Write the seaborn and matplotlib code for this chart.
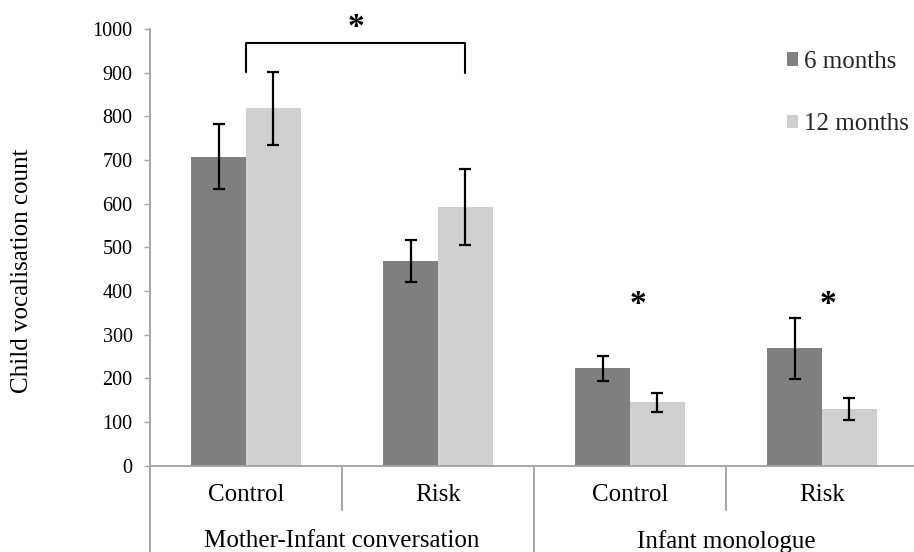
import matplotlib
matplotlib.use("Agg")
import matplotlib.pyplot as plt
import seaborn as sns
import pandas as pd

# Data: child vocalisation counts (mean and error) per context, group and age
contexts = ["Mother-Infant conversation", "Infant monologue"]
groups = ["Control", "Risk", "Control", "Risk"]
group_context = [0, 0, 1, 1]
ages = ["6 months", "12 months"]
counts_6m = [708, 469, 223, 269]
counts_12m = [818, 592, 145, 130]
err_6m = [75, 48, 28, 70]
err_12m = [83, 87, 21, 25]
y_ticks = [0, 100, 200, 300, 400, 500, 600, 700, 800, 900, 1000]

dark_grey = "#7f7f7f"
light_grey = "#cfcfcf"
axis_grey = "#a6a6a6"

sns.set_style("white")
plt.rcParams["font.family"] = ["Liberation Serif", "DejaVu Serif"]

cond_keys = [f"{contexts[c]} | {g}" for c, g in zip(group_context, groups)]
df = pd.DataFrame({
    "cond": cond_keys * 2,
    "age": [ages[0]] * 4 + [ages[1]] * 4,
    "count": counts_6m + counts_12m,
})

fig = plt.figure(figsize=(9.14, 5.52), dpi=100)
ax = fig.add_axes([150 / 914, 86.3 / 552, 768 / 914, 436.7 / 552])

sns.barplot(data=df, x="cond", y="count", hue="age", order=cond_keys,
            hue_order=ages, palette=[dark_grey, light_grey], saturation=1,
            width=0.57, gap=0, errorbar=None, linewidth=0, ax=ax)

# error bars on each bar
for container, errs in zip(ax.containers, [err_6m, err_12m]):
    xs = [p.get_x() + p.get_width() / 2 for p in container]
    ax.errorbar(xs, container.datavalues, yerr=errs, fmt="none",
                ecolor="black", elinewidth=1.6, capsize=4.5, capthick=1.6,
                zorder=5)

ax.set_xlim(-0.5, 3.5)
ax.set_ylim(0, 1000)
ax.set_yticks(y_ticks)
ax.set_yticklabels([str(t) for t in y_ticks], fontsize=14.5, color="black")
ax.set_xticks(range(4))
ax.set_xticklabels(groups, fontsize=18, color="black")
ax.tick_params(axis="x", length=0, pad=13)
ax.tick_params(axis="y", length=4.5, width=1, color=axis_grey, pad=8,
               direction="out", left=True)
ax.set_xlabel("")
ax.set_ylabel("Child vocalisation count", fontsize=18, color="black")
ax.yaxis.set_label_coords(-0.152, 0.447)

for side in ["top", "right"]:
    ax.spines[side].set_visible(False)
for side in ["left", "bottom"]:
    ax.spines[side].set_color(axis_grey)
    ax.spines[side].set_linewidth(1.4)

# category dividers below the axis
xtr = ax.get_xaxis_transform()
short_drop = -44 / 436.7
long_drop = -90 / 436.7
for xpos in [0.5, 2.5]:
    ax.plot([xpos, xpos], [0, short_drop], transform=xtr, color=axis_grey,
            lw=1.4, clip_on=False)
for xpos in [-0.5, 1.5, 3.5]:
    ax.plot([xpos, xpos], [0, long_drop], transform=xtr, color=axis_grey,
            lw=1.4, clip_on=False)

# context labels
for ci, name in enumerate(contexts):
    ax.text(0.5 + 2 * ci, -75.5 / 436.7, name, transform=xtr, ha="center",
            va="center", fontsize=18, color="black")

# significance bracket between control and risk in conversation
x_left = 0
risk_12m = ax.containers[1][1]
x_right = risk_12m.get_x() + risk_12m.get_width() / 2
ax.plot([x_left, x_left, x_right, x_right], [902, 969, 969, 900],
        color="black", lw=1.5, clip_on=False)
ax.text((x_left + x_right) / 2, 1004, "*", ha="center", va="center",
        fontsize=24, fontweight="bold", color="black")

# significance marks for the monologue groups
for xpos in [2.04, 3.03]:
    ax.text(xpos, 369, "*", ha="center", va="center", fontsize=24,
            fontweight="bold", color="black")

handles, labels = ax.get_legend_handles_labels()
if ax.get_legend() is not None:
    ax.get_legend().remove()
ax.legend(handles, labels, loc="upper left",
          bbox_to_anchor=((787 - 150) / 768, (465.7 - 51) / 436.7),
          frameon=False, fontsize=18, handlelength=0.45, handleheight=0.45,
          handletextpad=0.25, labelspacing=1.62, borderpad=0,
          borderaxespad=0)

fig.savefig("out.png", dpi=100)
